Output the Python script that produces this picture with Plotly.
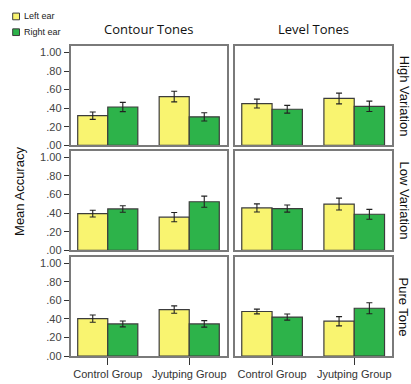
import plotly.graph_objects as go

groups = ["Control Group", "Jyutping Group"]
tone_types = ["Contour Tones", "Level Tones"]
conditions = ["High Variation", "Low Variation", "Pure Tone"]
series_names = ["Left ear", "Right ear"]

left_ear = {
    ("High Variation", "Contour Tones"): [0.32, 0.525],
    ("High Variation", "Level Tones"): [0.45, 0.505],
    ("Low Variation", "Contour Tones"): [0.395, 0.357],
    ("Low Variation", "Level Tones"): [0.456, 0.498],
    ("Pure Tone", "Contour Tones"): [0.404, 0.502],
    ("Pure Tone", "Level Tones"): [0.481, 0.376],
}
right_ear = {
    ("High Variation", "Contour Tones"): [0.413, 0.307],
    ("High Variation", "Level Tones"): [0.389, 0.42],
    ("Low Variation", "Contour Tones"): [0.445, 0.523],
    ("Low Variation", "Level Tones"): [0.449, 0.388],
    ("Pure Tone", "Contour Tones"): [0.347, 0.347],
    ("Pure Tone", "Level Tones"): [0.421, 0.516],
}
left_err = {
    ("High Variation", "Contour Tones"): [0.04, 0.057],
    ("High Variation", "Level Tones"): [0.048, 0.058],
    ("Low Variation", "Contour Tones"): [0.037, 0.05],
    ("Low Variation", "Level Tones"): [0.044, 0.064],
    ("Pure Tone", "Contour Tones"): [0.039, 0.04],
    ("Pure Tone", "Level Tones"): [0.026, 0.05],
}
right_err = {
    ("High Variation", "Contour Tones"): [0.05, 0.045],
    ("High Variation", "Level Tones"): [0.042, 0.056],
    ("Low Variation", "Contour Tones"): [0.035, 0.06],
    ("Low Variation", "Level Tones"): [0.038, 0.053],
    ("Pure Tone", "Contour Tones"): [0.032, 0.035],
    ("Pure Tone", "Level Tones"): [0.033, 0.06],
}
y_tickvals = [0, 0.2, 0.4, 0.6, 0.8, 1.0]
y_ticktext = [".00", ".20", ".40", ".60", ".80", "1.00"]

W, H = 411, 384
YELLOW = "#F9F470"
GREEN = "#2DB34A"
EDGE = "#3c3c3c"
FRAME = "#7a7a7a"
TICKFONT = dict(family="Liberation Sans, Arial", size=11, color="#444")

col_px = [(70.7, 226.7), (234.7, 392.0)]
row_px = [(46.7, 147.7), (153.3, 254.3), (261.0, 361.7)]

fig = go.Figure()
layout = {}
idx = 0
for r, cond in enumerate(conditions):
    for c, tone in enumerate(tone_types):
        idx += 1
        xa = "x" if idx == 1 else f"x{idx}"
        ya = "y" if idx == 1 else f"y{idx}"
        key = (cond, tone)
        fig.add_trace(go.Bar(
            x=groups, y=left_ear[key], name=series_names[0], xaxis=xa, yaxis=ya,
            marker=dict(color=YELLOW, line=dict(color=EDGE, width=1.2)),
            error_y=dict(type="data", array=left_err[key], color="#222", thickness=1.1, width=3),
            showlegend=False))
        fig.add_trace(go.Bar(
            x=groups, y=right_ear[key], name=series_names[1], xaxis=xa, yaxis=ya,
            marker=dict(color=GREEN, line=dict(color=EDGE, width=1.2)),
            error_y=dict(type="data", array=right_err[key], color="#222", thickness=1.1, width=3),
            showlegend=False))
        x0, x1 = col_px[c]
        y0, y1 = row_px[r]
        xname = "xaxis" if idx == 1 else f"xaxis{idx}"
        yname = "yaxis" if idx == 1 else f"yaxis{idx}"
        layout[xname] = dict(
            domain=[x0 / W, x1 / W], anchor=ya, range=[-0.455, 1.46],
            showline=True, mirror=True, linecolor=FRAME, linewidth=2,
            showgrid=False, zeroline=False, fixedrange=True,
            showticklabels=(r == 2),
            ticks="outside" if r == 2 else "", ticklen=7, tickcolor="#333", tickwidth=1,
            tickfont=dict(family="Liberation Sans, Arial", size=11, color="#333"),
        )
        layout[yname] = dict(
            domain=[1 - y1 / H, 1 - y0 / H], anchor=xa, range=[0, 1.07],
            showline=True, mirror=True, linecolor=FRAME, linewidth=2,
            showgrid=False, zeroline=False, fixedrange=True,
            tickvals=y_tickvals, ticktext=y_ticktext,
            showticklabels=(c == 0),
            ticks="outside" if c == 0 else "", ticklen=5, tickcolor="#333", tickwidth=1,
            tickfont=TICKFONT,
        )

annotations = []
shapes = []
for c, tone in enumerate(tone_types):
    x0, x1 = col_px[c]
    annotations.append(dict(text=tone, x=(x0 + x1) / 2 / W, y=1 - 29.5 / H, xref="paper", yref="paper",
                            showarrow=False, xanchor="center", yanchor="middle",
                            font=dict(family="Open Sans, Noto Sans", size=13, color="#111")))
for r, cond in enumerate(conditions):
    y0, y1 = row_px[r]
    annotations.append(dict(text=cond, x=404 / W, y=1 - (y0 + y1) / 2 / H, xref="paper", yref="paper",
                            showarrow=False, textangle=90, xanchor="center", yanchor="middle",
                            font=dict(family="Liberation Sans, Arial", size=13, color="#111")))
annotations.append(dict(text="Mean Accuracy", x=20 / W, y=1 - 195 / H, xref="paper", yref="paper",
                        showarrow=False, textangle=-90, xanchor="center", yanchor="middle",
                        font=dict(family="Liberation Sans, Arial", size=13, color="#111")))

# legend (swatches + labels)
for i, (name, color) in enumerate(zip(series_names, [YELLOW, GREEN])):
    cy = 16.7 + i * 16
    shapes.append(dict(type="rect", xref="paper", yref="paper",
                       x0=12.7 / W, x1=19.5 / W, y0=1 - (cy - 3.4) / H, y1=1 - (cy + 3.4) / H,
                       fillcolor=color, line=dict(color=EDGE, width=1)))
    annotations.append(dict(text=name, x=21.5 / W, y=1 - cy / H, xref="paper", yref="paper",
                            showarrow=False, xanchor="left", yanchor="middle",
                            font=dict(family="Liberation Sans, Arial", size=9, color="#222")))

fig.update_layout(
    width=W, height=H, margin=dict(l=0, r=0, t=0, b=0),
    paper_bgcolor="white", plot_bgcolor="white",
    barmode="group", bargap=0.262, bargroupgap=0,
    annotations=annotations, shapes=shapes, showlegend=False,
    **layout,
)
fig.write_html(
    "out.html",
    config={"displayModeBar": False},
    post_script="document.body.style.margin='0';document.body.style.overflow='hidden';",
)
